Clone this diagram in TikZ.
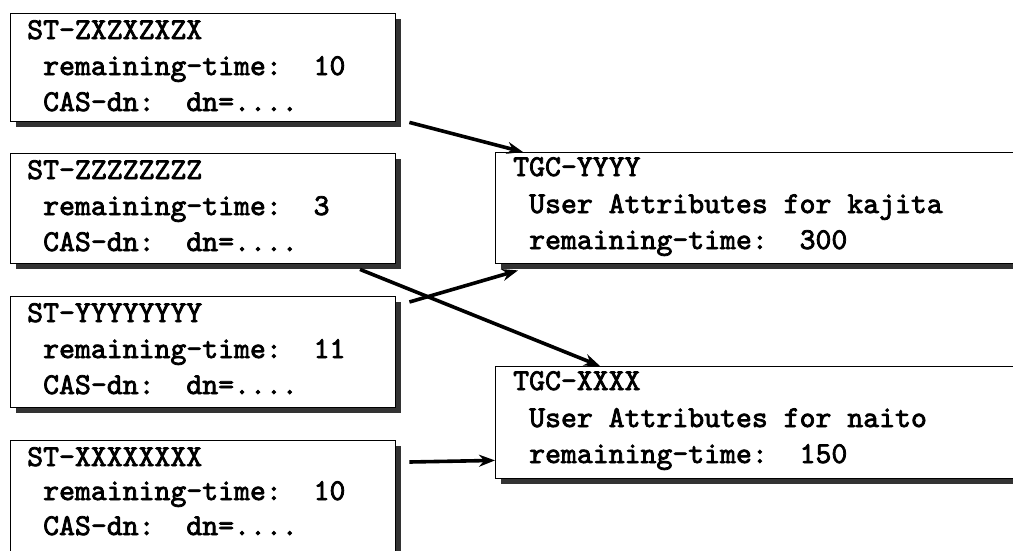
\documentclass[tikz,border=0pt]{standalone}
\usepackage{fontspec}
\newfontfamily\courbold{lmmono10-regular.otf}[FakeBold=2.5]
\usetikzlibrary{arrows.meta,shadows,calc}
\begin{document}
\begin{tikzpicture}[x=1pt,y=-1pt,
  box/.style={draw=black, line width=1.4pt, fill=white, anchor=north west, inner sep=0pt,
    drop shadow={shadow xshift=5pt, shadow yshift=-5pt, fill=black!80, opacity=1}},
  lbox/.style={box, minimum width=385pt},
  rbox/.style={box, minimum width=540pt},
  txt/.style={anchor=base west, inner sep=0pt, font=\courbold\fontsize{30.3}{34}\selectfont},
  conn/.style={line width=3.6pt, -{Stealth[length=16pt,width=12pt]}}]
\useasboundingbox (0,0) rectangle (1013,550);
\clip (0,0) rectangle (1013,550);
\fill[white] (0,0) rectangle (1013,550);
% left boxes
\node[lbox, minimum height=108pt] (s1) at (10,13) {};
\node[txt] (s1a) at ($(s1.north west)+(17,26)$) {ST-ZXZXZXZX};
\node[txt] (s1b) at ($(s1.north west)+(33,62)$) {remaining-time:\ \ 10};
\node[txt] (s1c) at ($(s1.north west)+(33,98)$) {CAS-dn:\ \ dn=....};
\node[lbox, minimum height=110pt] (s2) at (10,153) {};
\node[txt] (s2a) at ($(s2.north west)+(17,26)$) {ST-ZZZZZZZZ};
\node[txt] (s2b) at ($(s2.north west)+(33,62)$) {remaining-time:\ \ 3};
\node[txt] (s2c) at ($(s2.north west)+(33,98)$) {CAS-dn:\ \ dn=....};
\node[lbox, minimum height=111pt] (s3) at (10,296) {};
\node[txt] (s3a) at ($(s3.north west)+(17,26)$) {ST-YYYYYYYY};
\node[txt] (s3b) at ($(s3.north west)+(33,62)$) {remaining-time:\ \ 11};
\node[txt] (s3c) at ($(s3.north west)+(33,98)$) {CAS-dn:\ \ dn=....};
\node[lbox, minimum height=116pt] (s4) at (10,440) {};
\node[txt] (s4a) at ($(s4.north west)+(17,26)$) {ST-XXXXXXXX};
\node[txt] (s4b) at ($(s4.north west)+(33,60)$) {remaining-time:\ \ 10};
\node[txt] (s4c) at ($(s4.north west)+(33,95)$) {CAS-dn:\ \ dn=....};
% right boxes
\node[rbox, minimum height=111pt] (t1) at (495,152) {};
\node[txt] (t1a) at ($(t1.north west)+(18,24)$) {TGC-YYYY};
\node[txt] (t1b) at ($(t1.north west)+(34,61)$) {User Attributes for kajita};
\node[txt] (t1c) at ($(t1.north west)+(34,97)$) {remaining-time:\ \ 300};
\node[rbox, minimum height=112pt] (t2) at (495,366) {};
\node[txt] (t2a) at ($(t2.north west)+(18,24)$) {TGC-XXXX};
\node[txt] (t2b) at ($(t2.north west)+(34,61)$) {User Attributes for naito};
\node[txt] (t2c) at ($(t2.north west)+(34,97)$) {remaining-time:\ \ 150};
% connectors
\draw[conn] ($(s1.south east)+(13,0)$) -- ($(t1.north west)+(28,0)$);
\draw[conn] ($(s2.south west)+(350,5)$) -- ($(t2.north west)+(105,0)$);
\draw[conn] ($(s3.north east)+(13,6)$) -- ($(t1.south west)+(23,6)$);
\draw[conn] ($(s4.north east)+(13,22)$) -- ($(t2.south west)+(0,-19)$);
\end{tikzpicture}
\end{document}
